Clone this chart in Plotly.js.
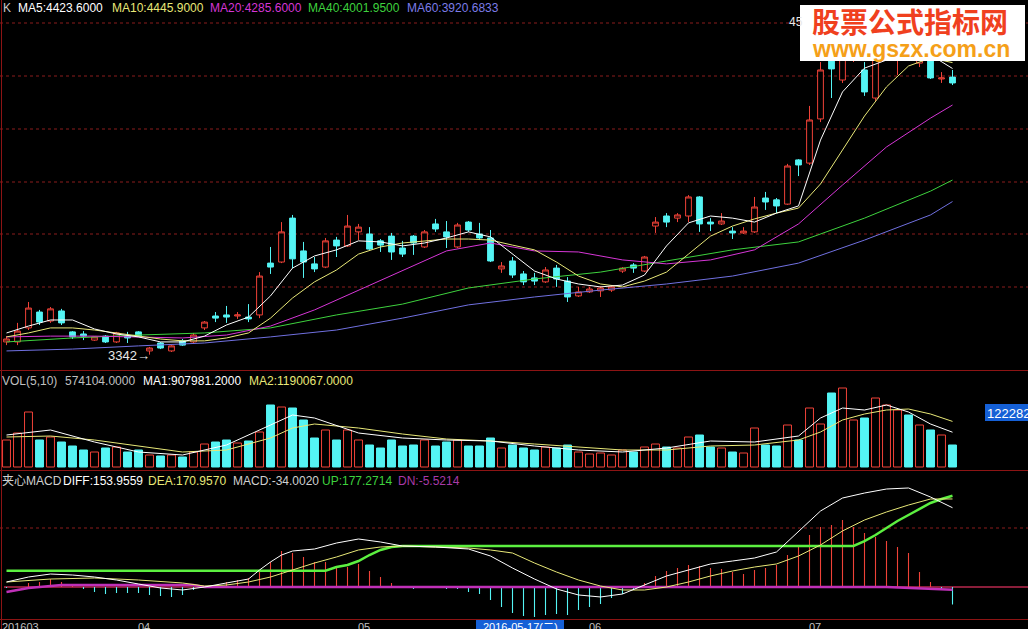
<!DOCTYPE html>
<html><head><meta charset="utf-8">
<script src="https://cdn.plot.ly/plotly-3.0.1.min.js"></script>
<style>html,body{margin:0;padding:0;background:#000;overflow:hidden}#chart{width:1028px;height:629px}</style>
</head><body><div id="chart"></div>
<script>
// ---------- DATA ----------
const openP = [3390,3390,3443,3503,3469,3507,3428,3420,3397,3412,
3390,3412,3428,3356,3386,3356,3394,3390,3443,3488,
3492,3488,3484,3492,3688,3692,3858,3734,3685,3673,
3775,3753,3806,3798,3772,3790,3745,3790,3749,3836,
3806,3749,3843,3798,3783,3666,3696,3647,3632,3617,
3669,3620,3564,3579,3583,3586,3658,3681,3658,3828,
3866,3858,3866,3938,3843,3836,3809,3802,3806,3934,
3927,3911,4078,4066,4233,4531,4380,4475,4418,4312,
4463,4463,4539,4444,4493,4384,4391];
const highP = [3412,3462,3541,3511,3522,3515,3431,3431,3412,3416,
3428,3428,3431,3371,3390,3378,3401,3424,3469,3503,
3526,3503,3533,3654,3749,3843,3870,3768,3711,3783,
3787,3870,3836,3824,3779,3802,3772,3794,3813,3855,
3847,3840,3847,3840,3813,3692,3711,3658,3651,3673,
3681,3635,3598,3598,3601,3605,3673,3688,3715,3862,
3877,3877,3945,3941,3858,3877,3824,3824,3938,3957,
3934,4063,4081,4282,4448,4592,4531,4550,4448,4550,
4550,4558,4558,4512,4512,4410,4418];
const lowP = [3378,3378,3435,3454,3462,3454,3401,3397,3394,3386,
3386,3386,3409,3342,3363,3352,3375,3386,3435,3465,
3462,3477,3465,3480,3647,3688,3669,3632,3654,3669,
3711,3749,3775,3738,3730,3700,3711,3719,3745,3806,
3745,3745,3806,3775,3692,3651,3632,3605,3605,3613,
3598,3541,3560,3575,3560,3579,3651,3651,3654,3802,
3824,3843,3843,3806,3809,3832,3779,3798,3802,3889,
3877,3908,4017,4059,4221,4312,4369,4448,4320,4301,
4456,4399,4456,4429,4384,4369,4361];
const closeP = [3401,3431,3518,3465,3515,3462,3409,3412,3409,3390,
3424,3405,3412,3367,3367,3375,3378,3416,3465,3480,
3484,3492,3477,3639,3673,3806,3704,3692,3666,3772,
3753,3828,3824,3741,3756,3730,3722,3764,3806,3817,
3787,3832,3813,3783,3696,3677,3643,3617,3620,3662,
3628,3560,3579,3590,3594,3598,3669,3669,3711,3843,
3843,3870,3938,3836,3836,3847,3802,3809,3900,3919,
3904,4055,4059,4229,4418,4422,4493,4512,4335,4512,
4524,4539,4475,4493,4388,4388,4369];

const ma5Idx = [0,2,4,6,8,10,12,14,16,18,20,22,24,26,28,30,32,34,36,38,40,42,44,46,48,50,52,54,56,58,60,62,64,66,68,70,72,74,76,78,80,82,84,86];
const ma5 = [3424,3450,3473,3473,3439,3420,3409,3390,3390,3412,3454,3484,3564,3669,3715,3738,3772,3768,3753,3764,3783,3806,3787,3722,3658,3628,3609,3598,3605,3643,3753,3840,3866,3858,3843,3877,3904,4153,4335,4425,4456,4486,4475,4423.6];
const ma10 = [3409,3424,3443,3443,3435,3424,3412,3401,3394,3394,3405,3424,3480,3556,3617,3662,3722,3749,3764,3772,3779,3779,3775,3756,3738,3692,3639,3609,3598,3620,3654,3722,3790,3828,3855,3877,3896,3987,4116,4244,4354,4433,4463,4445.9];
const ma20Idx = [0,4,8,12,16,20,24,28,32,36,40,44,48,52,56,60,64,68,72,76,80,84,86];
const ma20 = [3409,3412,3412,3409,3405,3416,3450,3511,3586,3658,3734,3764,3734,3730,3700,3685,3700,3738,3836,3983,4127,4236,4285.6];
const ma4060Idx = [0,6,12,18,24,30,36,42,48,54,60,66,72,78,84,86];
const ma40 = [3390,3405,3416,3424,3443,3492,3533,3594,3628,3654,3696,3738,3768,3858,3960,4001.95];
const ma60 = [3356,3363,3375,3386,3409,3435,3480,3530,3560,3586,3609,3639,3688,3775,3870,3920.6833];

const volume = [704700,887400,1435500,704700,783000,652500,548100,443700,391500,495900,
522000,391500,443700,313200,287100,313200,261000,391500,600300,652500,
704700,626400,678600,913500,1618200,1566000,1539900,1226700,756900,965700,
704700,965700,704700,574200,495900,704700,548100,574200,704700,548100,
652500,704700,548100,548100,756900,495900,574200,495900,443700,522000,
495900,574200,391500,339300,365400,313200,443700,391500,522000,600300,
522000,495900,783000,835200,522000,495900,391500,365400,1017900,574200,
548100,1096200,704700,1539900,1122300,1931400,2061900,1226700,1278900,1800900,
1618200,1487700,1357200,1096200,965700,835200,574104];
const vmaIdx = [0,4,8,12,16,20,24,26,28,32,36,40,44,48,52,56,60,64,68,72,74,76,78,80,82,84,86];
const vma1 = [835200,965700,652500,391500,313200,574200,1096200,1357200,1278900,887400,756900,704700,678600,548100,443700,391500,495900,678600,652500,809100,1278900,1539900,1487700,1618200,1435500,1122300,907981.2];
const vma2 = [783000,809100,704700,548100,391500,443700,756900,1017900,1122300,1017900,861300,730800,678600,600300,522000,443700,443700,548100,574200,704700,913500,1226700,1383300,1487700,1513800,1383300,1190067];

const diffIdx = [0,2,4,6,8,10,12,14,16,18,20,22,23,24,25,26,28,30,32,34,36,39,42,44,46,48,50,52,54,56,58,60,62,64,66,68,70,72,74,76,78,80,82,84,86];
const diff = [9.7,19.4,25.2,23.3,19.4,13.6,5.8,-1.9,-5.8,0,7.8,15.5,33.0,48.6,62.1,69.9,73.8,85.4,93.2,87.4,79.6,77.7,73.8,60.2,36.9,15.5,-3.9,-15.5,-19.4,-13.6,3.9,21.4,33.0,44.7,50.5,56.3,68.0,108.8,147.6,172.8,182.5,190.3,192.3,174.8,153.9559];
const deaIdx = [0,4,8,12,16,18,20,22,24,26,28,30,32,34,36,39,42,44,46,48,50,52,54,56,58,60,62,64,66,68,70,72,74,76,78,80,82,84,86];
const dea = [9.7,15.5,17.5,13.6,7.8,1.9,3.9,9.7,19.4,33.0,46.6,58.3,71.9,77.7,79.6,77.7,75.7,71.9,66.0,46.6,29.1,13.6,1.9,-5.8,-5.8,0,9.7,21.4,31.1,38.8,44.7,60.2,81.6,108.8,130.1,145.7,159.2,170.9,170.957];
const upIdx = [0,29,30,31,32,33,34,35,36,77,78,79,80,81,82,83,84,85,86];
const up = [31.7,31.7,38.8,42.7,50.5,62.1,71.9,77.7,79.6,79.6,89.3,101.0,114.6,128.2,139.8,151.5,163.1,170.9,177.2714];
const dnIdx = [0,2,5,17,18,80,86];
const dn = [-9.7,-1.9,3.9,3.9,0,0,-5.5214];
const macd = [-1.9,0,7.8,9.7,15.5,9.7,3.9,-3.9,-9.7,-13.6,
-11.7,-11.7,-11.7,-15.5,-17.5,-19.4,-15.5,-5.8,1.9,3.9,
9.7,13.6,17.5,33.0,48.6,69.9,66.0,58.3,48.6,48.6,
38.8,38.8,44.7,31.1,19.4,7.8,-1.9,-3.9,-1.9,-1.9,
-3.9,-3.9,-9.7,-13.6,-25.2,-38.8,-50.5,-56.3,-58.3,-54.4,
-52.4,-54.4,-44.7,-38.8,-33.0,-21.4,-13.6,-5.8,7.8,21.4,
31.1,36.9,42.7,40.8,36.9,35.0,29.1,25.2,33.0,36.9,
42.7,62.1,77.7,101.0,116.5,120.4,130.1,116.5,104.9,97.1,
89.3,77.7,66.0,29.1,9.7,-3.9,-34.002];

const monthLabels = ['201603','04','05','06','07'];
const monthDayIdx = [0,12,32,53,73];
const cursorLabel = '2016-05-17(二)';

// ---------- DRAWING ----------
const W = 1028, H = 629;
const RED = '#f04238', CYAN = '#54f4f4';
const FONT = 'Liberation Sans, Arial, Noto Sans CJK SC, sans-serif';
const CJK = 'Noto Sans CJK SC, sans-serif';
const idx = openP.map((_, i) => i);
const isUp = closeP.map((c, i) => c >= openP[i]);

const traces = [];
traces.push({type:'candlestick', x:idx, open:openP, high:highP, low:lowP, close:closeP,
  xaxis:'x', yaxis:'y', whiskerwidth:0, hoverinfo:'skip', showlegend:false,
  increasing:{line:{color:RED, width:1}, fillcolor:'#000000'},
  decreasing:{line:{color:CYAN, width:1}, fillcolor:CYAN}});
const maLine = (x, y, color) => ({type:'scatter', mode:'lines', x, y, xaxis:'x', yaxis:'y',
  line:{color, width:1}, hoverinfo:'skip', showlegend:false});
traces.push(maLine(ma4060Idx, ma60, '#7070e0'));
traces.push(maLine(ma4060Idx, ma40, '#3ed23e'));
traces.push(maLine(ma20Idx, ma20, '#d636d6'));
traces.push(maLine(ma5Idx, ma10, '#e8e878'));
traces.push(maLine(ma5Idx, ma5, '#ffffff'));

traces.push({type:'bar', x:idx, y:volume, xaxis:'x', yaxis:'y2', width:0.72, hoverinfo:'skip', showlegend:false,
  marker:{color:isUp.map(u => u ? '#000000' : CYAN), line:{color:isUp.map(u => u ? RED : CYAN), width:1}}});
traces.push({type:'scatter', mode:'lines', x:vmaIdx, y:vma2, xaxis:'x', yaxis:'y2', line:{color:'#e8e878', width:1}, hoverinfo:'skip', showlegend:false});
traces.push({type:'scatter', mode:'lines', x:vmaIdx, y:vma1, xaxis:'x', yaxis:'y2', line:{color:'#ffffff', width:1}, hoverinfo:'skip', showlegend:false});

traces.push({type:'bar', x:idx, y:macd, xaxis:'x', yaxis:'y3', width:0.1, hoverinfo:'skip', showlegend:false,
  marker:{color:macd.map(v => v >= 0 ? RED : CYAN), line:{width:0}}});
traces.push({type:'scatter', mode:'lines', x:dnIdx, y:dn, xaxis:'x', yaxis:'y3', line:{color:'#c030b8', width:2.5}, hoverinfo:'skip', showlegend:false});
traces.push({type:'scatter', mode:'lines', x:upIdx, y:up, xaxis:'x', yaxis:'y3', line:{color:'#5cf040', width:2.5}, hoverinfo:'skip', showlegend:false});
traces.push({type:'scatter', mode:'lines', x:deaIdx, y:dea, xaxis:'x', yaxis:'y3', line:{color:'#e8e878', width:1}, hoverinfo:'skip', showlegend:false});
traces.push({type:'scatter', mode:'lines', x:diffIdx, y:diff, xaxis:'x', yaxis:'y3', line:{color:'#ffffff', width:1}, hoverinfo:'skip', showlegend:false});

const pxX = v => v / W, pxY = v => 1 - v / H;
const hidden = {showgrid:false, zeroline:false, showticklabels:false, showline:false, ticks:'', fixedrange:true};

const shapes = [];
const hline = (y, color, dash, layer) => ({type:'line', xref:'paper', yref:'paper', x0:0, x1:1, y0:pxY(y), y1:pxY(y), line:{color, width:1, dash}, layer:layer||'below'});
[23,76,129,182,234,287,528].forEach(y => shapes.push(hline(y, '#8a1c1c', 'dot')));
[370.5,470.5,619.5].forEach(y => shapes.push(hline(y, '#8c1414', 'solid')));
shapes.push({type:'line', xref:'paper', yref:'paper', x0:pxX(1.5), x1:pxX(1.5), y0:0, y1:1, line:{color:'#8c1414', width:1}, layer:'below'});
shapes.push({type:'line', xref:'paper', yref:'y3', x0:pxX(4), x1:1, y0:0, y1:0, line:{color:'#b8284e', width:1.5}, layer:'below'});
// watermark box, value box, date box
shapes.push({type:'rect', xref:'paper', yref:'paper', x0:pxX(800), x1:pxX(1025), y0:pxY(61), y1:pxY(5), fillcolor:'#ffffff', line:{width:0}, layer:'above'});
shapes.push({type:'rect', xref:'paper', yref:'paper', x0:pxX(985), x1:pxX(1028), y0:pxY(421), y1:pxY(404), fillcolor:'#1560d6', line:{width:0}, layer:'above'});
shapes.push({type:'rect', xref:'paper', yref:'paper', x0:pxX(476), x1:pxX(564), y0:pxY(629), y1:pxY(620), fillcolor:'#1560d6', line:{width:0}, layer:'above'});

const ann = (text, x, y, color, size, extra) => Object.assign({text, x:pxX(x), y:pxY(y), xref:'paper', yref:'paper',
  xanchor:'left', yanchor:'middle', showarrow:false, font:{family:FONT, size:size||12, color}}, extra||{});
const annotations = [
  ann('K', 1, 8.5, '#c8c8c8'),
  ann('MA5:' + ma5[ma5.length-1].toFixed(4), 16, 8.5, '#ffffff'),
  ann('MA10:' + ma10[ma10.length-1].toFixed(4), 110, 8.5, '#e8e878'),
  ann('MA20:' + ma20[ma20.length-1].toFixed(4), 208, 8.5, '#d636d6'),
  ann('MA40:' + ma40[ma40.length-1].toFixed(4), 306, 8.5, '#3ed23e'),
  ann('MA60:' + ma60[ma60.length-1].toFixed(4), 405, 8.5, '#7c7ce8'),
  ann('VOL(5,10)', 0, 381, '#c0c0c0'),
  ann(volume[volume.length-1].toFixed(4), 63, 381, '#c0c0c0'),
  ann('MA1:' + vma1[vma1.length-1].toFixed(4), 141, 381, '#ffffff'),
  ann('MA2:' + vma2[vma2.length-1].toFixed(4), 247, 381, '#e8e878'),
  ann('夹心MACD', 0, 481, '#d0d0d0'),
  ann('DIFF:' + diff[diff.length-1].toFixed(4), 61, 481, '#ffffff'),
  ann('DEA:' + dea[dea.length-1].toFixed(4), 146, 481, '#e8e878'),
  ann('MACD:' + macd[macd.length-1].toFixed(4), 231, 481, '#d0d0d0'),
  ann('UP:' + up[up.length-1].toFixed(4), 320, 481, '#3ed23e'),
  ann('DN:' + dn[dn.length-1].toFixed(4), 396, 481, '#a83aa8'),
  ann(String(Math.round(Math.min(...lowP))) + '→', 106, 355, '#e8e8e8', 13),
  ann('45', 787, 22, '#e8e8e8', 12),
  ann('122282', 985, 413, '#ffffff', 13),
  ann('<b>股票公式指标网</b>', 910, 20.5, '#f0401e', 28, {xanchor:'center', font:{family:CJK, size:28, color:'#f0401e'}}),
  ann('<b>www.gszx.com.cn</b>', 911, 49, '#f5a018', 23, {xanchor:'center', font:{family:'Liberation Sans, Arial, sans-serif', size:23, color:'#f5a018'}}),
  ann(cursorLabel, 520, 627, '#ffffff', 11, {xanchor:'center', font:{family:FONT, size:11, color:'#ffffff'}})
];
const xPix = i => 6.5 + 11 * i;
monthLabels.forEach((m, k) => {
  const x = k === 0 ? 0 : xPix(monthDayIdx[k]) - 3;
  annotations.push(ann(m, x, 627, '#c0c0c0', 11));
});

const layout = {
  width: W, height: H, margin:{l:0, r:0, t:0, b:0, pad:0},
  paper_bgcolor:'#000000', plot_bgcolor:'#000000', showlegend:false,
  barmode:'overlay', boxgap:0.25, hovermode:false, dragmode:false,
  xaxis: Object.assign({range:[-6.5/11, (W - 6.5)/11], rangeslider:{visible:false}, anchor:'y3'}, hidden),
  yaxis: Object.assign({domain:[pxY(370), 1], range:[4682.5 - 3.78*370, 4682.5], anchor:'x'}, hidden),
  yaxis2: Object.assign({domain:[pxY(470), pxY(372)], range:[-3*26100, 95*26100], anchor:'x'}, hidden),
  yaxis3: Object.assign({domain:[pxY(619), pxY(472)], range:[(587-619)*1.942, (587-472)*1.942], anchor:'x'}, hidden),
  shapes, annotations
};
Plotly.newPlot('chart', traces, layout, {displayModeBar:false, staticPlot:true});
</script>
</body></html>
